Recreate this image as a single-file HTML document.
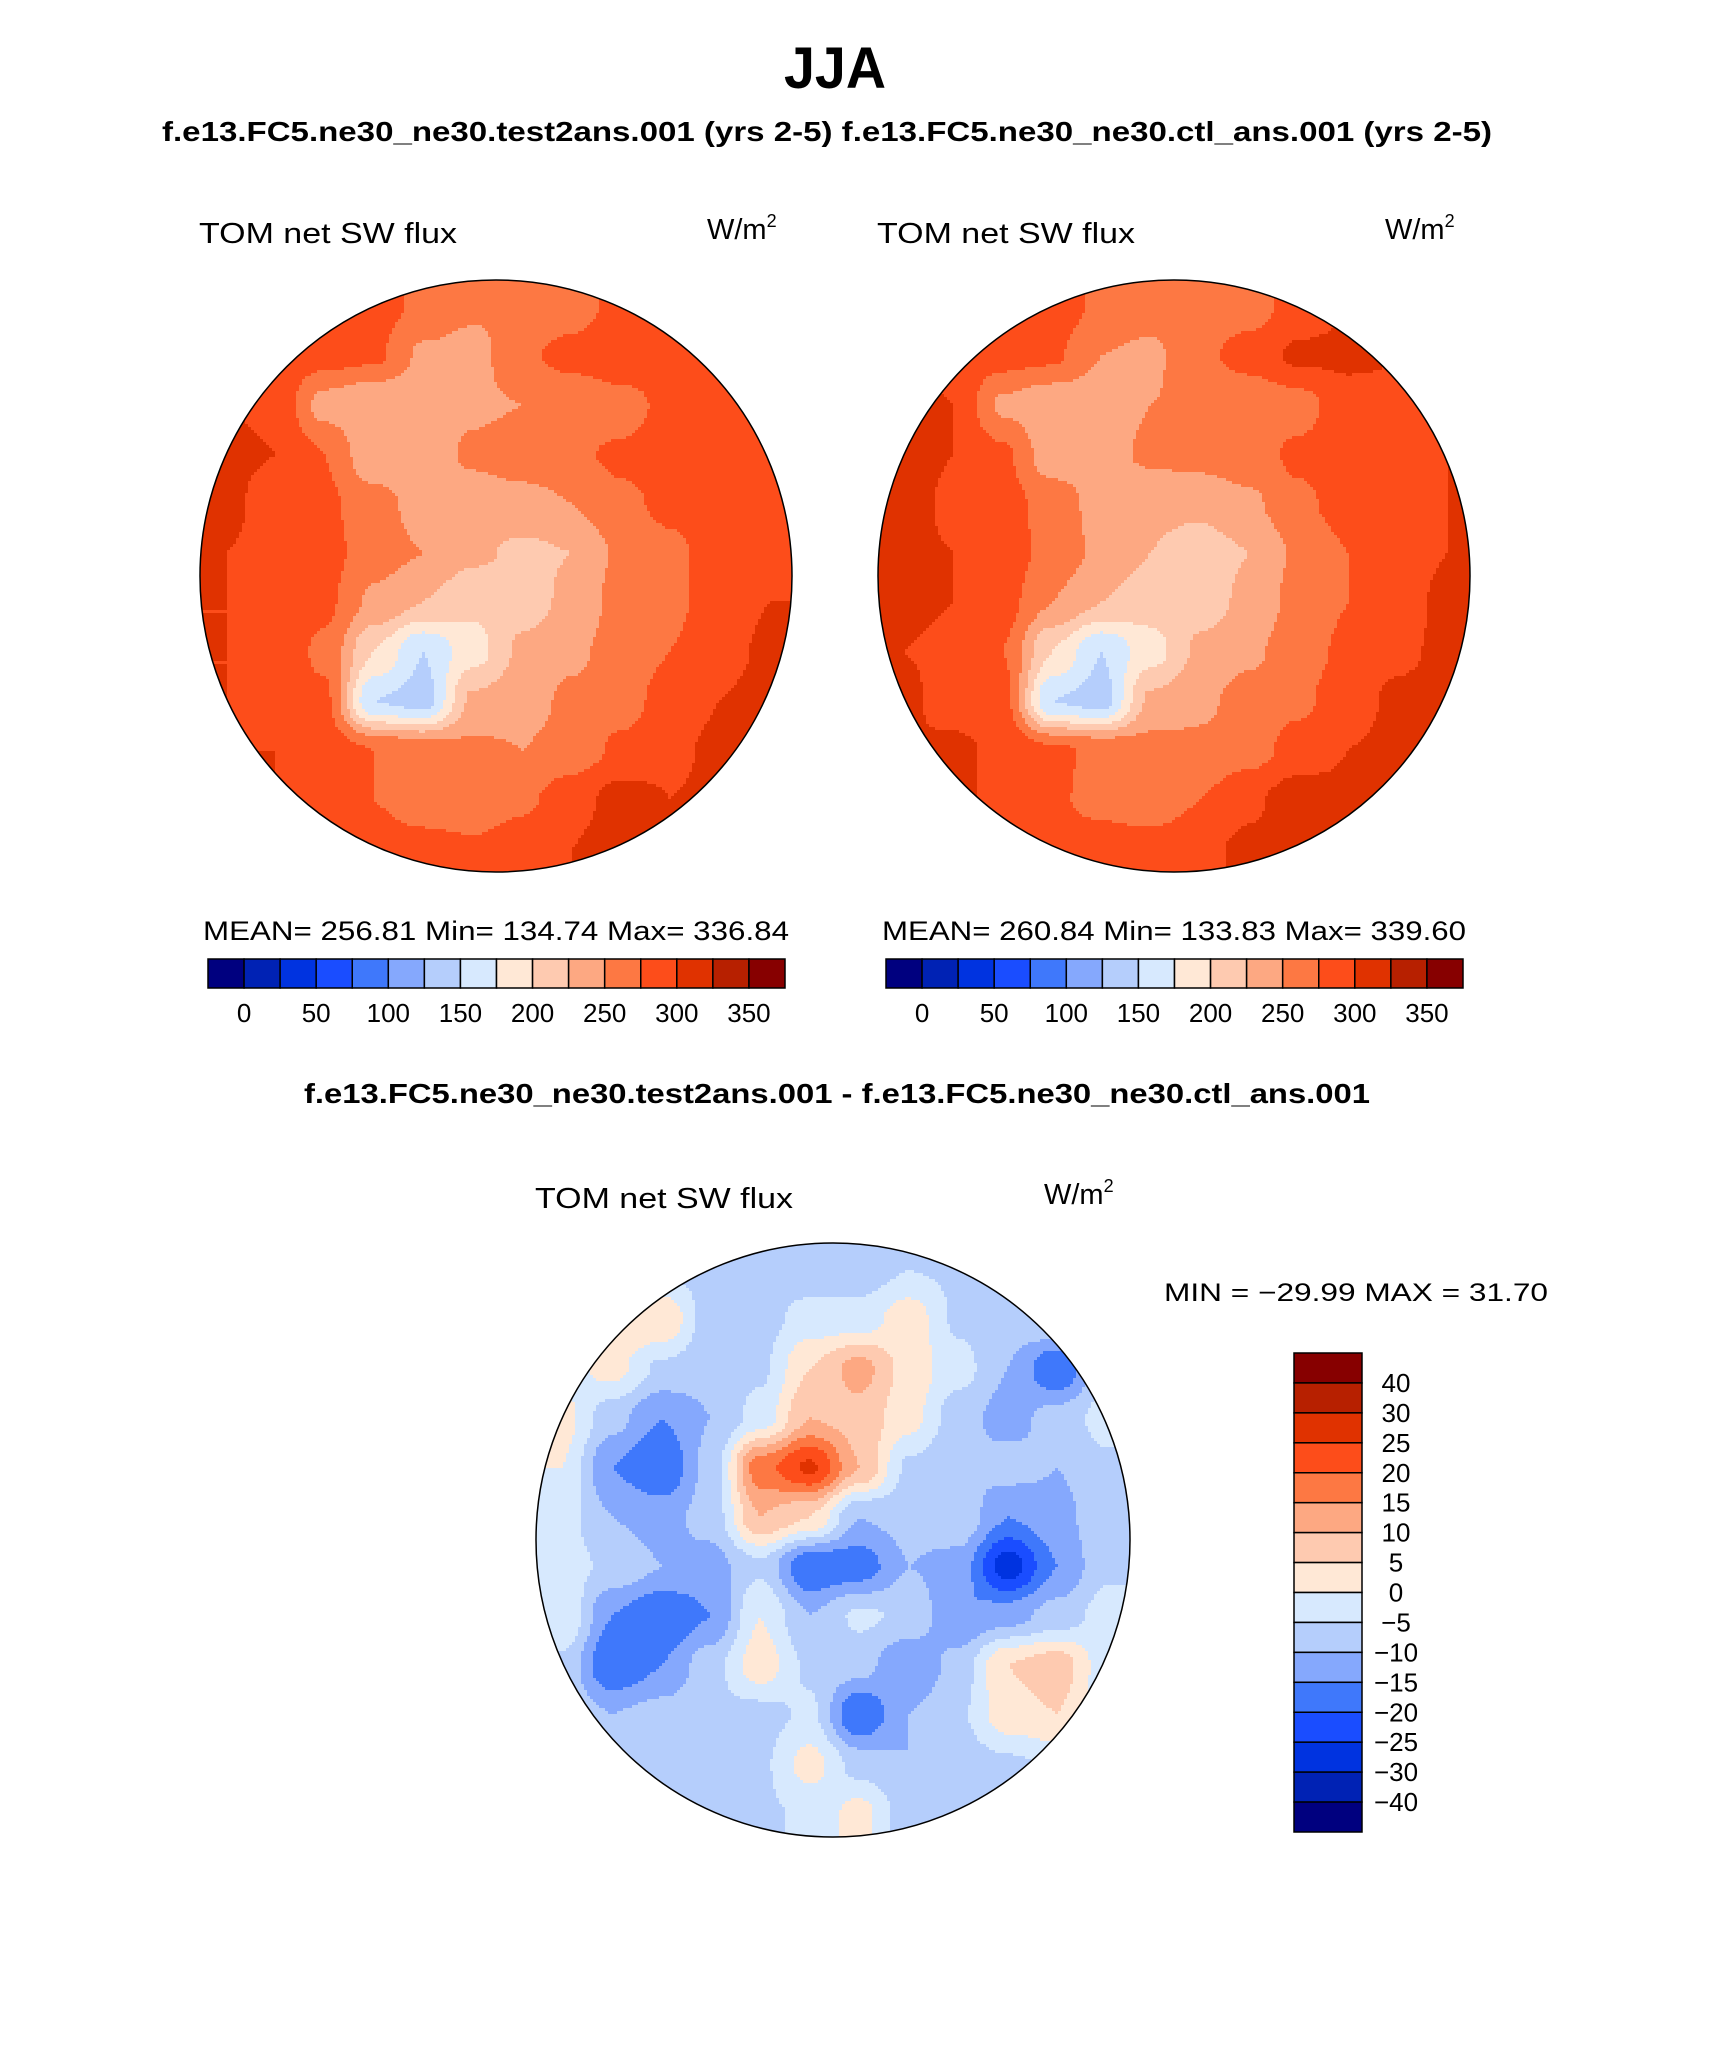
<!DOCTYPE html>
<html><head><meta charset="utf-8"><style>
html,body{margin:0;padding:0;background:#fff;}
svg{display:block;}
text{font-family:"Liberation Sans",sans-serif;fill:#000;}
</style></head><body>
<svg id="root" width="1710" height="2061" viewBox="0 0 1710 2061" xmlns="http://www.w3.org/2000/svg">
<rect x="0" y="0" width="1710" height="2061" fill="#fff"/>
<defs>
<clipPath id="c1"><circle cx="496" cy="576" r="296"/></clipPath>
<clipPath id="c2"><circle cx="1174" cy="576" r="296"/></clipPath>
<clipPath id="c3"><circle cx="833" cy="1540" r="297"/></clipPath>
</defs>
<text x="784" y="88" font-size="58" font-weight="bold" textLength="102" lengthAdjust="spacingAndGlyphs">JJA</text>
<text x="162" y="141" font-size="28" font-weight="bold" textLength="1330" lengthAdjust="spacingAndGlyphs">f.e13.FC5.ne30_ne30.test2ans.001 (yrs 2-5)  f.e13.FC5.ne30_ne30.ctl_ans.001 (yrs 2-5)</text>

<text x="199" y="243" font-size="29" textLength="258" lengthAdjust="spacingAndGlyphs">TOM net SW flux</text>
<text x="707" y="239" font-size="29">W/m<tspan font-size="18" dy="-12">2</tspan></text>
<text x="877" y="243" font-size="29" textLength="258" lengthAdjust="spacingAndGlyphs">TOM net SW flux</text>
<text x="1385" y="239" font-size="29">W/m<tspan font-size="18" dy="-12">2</tspan></text>

<g id="map1" clip-path="url(#c1)"></g>
<circle cx="496" cy="576" r="296" fill="none" stroke="#000" stroke-width="1.5"/>
<g id="map2" clip-path="url(#c2)"></g>
<circle cx="1174" cy="576" r="296" fill="none" stroke="#000" stroke-width="1.5"/>

<text x="203" y="940" font-size="27" textLength="586" lengthAdjust="spacingAndGlyphs">MEAN= 256.81   Min= 134.74   Max= 336.84</text>
<text x="882" y="940" font-size="27" textLength="584" lengthAdjust="spacingAndGlyphs">MEAN= 260.84   Min= 133.83   Max= 339.60</text>
<g id="cb1"></g>
<g id="cb2"></g>

<text x="304" y="1103" font-size="28" font-weight="bold" textLength="1066" lengthAdjust="spacingAndGlyphs">f.e13.FC5.ne30_ne30.test2ans.001 - f.e13.FC5.ne30_ne30.ctl_ans.001</text>
<text x="535" y="1208" font-size="29" textLength="258" lengthAdjust="spacingAndGlyphs">TOM net SW flux</text>
<text x="1044" y="1204" font-size="29">W/m<tspan font-size="18" dy="-12">2</tspan></text>
<text x="1164" y="1301" font-size="25" textLength="384" lengthAdjust="spacingAndGlyphs">MIN = −29.99 MAX =  31.70</text>

<g id="map3" clip-path="url(#c3)"></g>
<circle cx="833" cy="1540" r="297" fill="none" stroke="#000" stroke-width="1.5"/>
<g id="cb3"></g>
</svg>
<script>
const palette=["#00007f","#0022b4","#0033e0","#1a4dff","#3f78fb","#85a8fd","#b5cefc","#d7e9fe","#ffe8d6","#fecab0","#fda882","#fd7843","#fd4d1a","#e03200","#b72000","#870000"];
const levelsAbs=[0,25,50,75,100,125,150,175,200,225,250,275,300,325,350];
const levelsDiff=[-40,-30,-25,-20,-15,-10,-5,0,5,10,15,20,25,30,40];
const tickAbs=["0","50","100","150","200","250","300","350"];
const tickDiff=["40","30","25","20","15","10","5","0","−5","−10","−15","−20","−25","−30","−40"];

const testField=[
[290,290,290,285,270,255,250,260,285,295,300,300],
[295,290,285,280,245,240,270,285,300,300,295,300],
[300,295,240,225,230,245,250,250,260,285,290,295],
[305,300,275,230,235,255,265,270,280,290,295,295],
[305,290,280,260,240,235,240,250,270,280,290,295],
[300,295,285,260,250,230,220,225,255,270,285,295],
[300,300,280,245,225,205,215,230,260,270,285,300],
[300,290,270,200,150,190,230,245,260,275,290,305],
[300,285,280,150,140,230,240,255,265,285,300,310],
[300,300,290,275,265,255,250,260,280,295,305,310],
[300,300,290,275,260,255,270,290,310,300,305,300],
[300,300,295,290,285,280,290,300,315,300,300,300]];
const ctlField=[
[290,290,295,290,270,260,255,265,285,300,300,300],
[300,295,285,280,250,245,270,285,305,305,300,300],
[305,300,245,230,235,250,255,255,265,290,295,300],
[310,300,280,235,240,255,260,265,280,290,300,300],
[310,295,285,265,240,230,230,245,270,285,295,300],
[305,300,290,265,245,225,215,225,255,275,290,300],
[305,300,285,250,225,210,215,230,260,275,290,305],
[300,295,275,200,150,190,230,245,265,280,295,305],
[305,290,285,150,140,230,245,260,270,290,305,310],
[300,305,295,280,270,260,255,265,285,300,305,310],
[300,305,295,280,265,260,275,295,315,305,305,300],
[300,300,300,295,290,285,295,305,320,305,300,300]];
const diffField=[
[-7,-7,-7,-6,-8,-8,-8,-5,-6,-7,-6,-6],
[-3,5,5,-8,-7,-3,-3,3,-6,-8,-4,-3],
[-3,2,-6,-8,-6,5,12,3,-3,-10,-20,-6],
[2,-8,-15,-10,-3,10,8,2,-8,-12,-8,-3],
[0,-15,-20,-8,18,26,10,-6,-10,-8,-10,-6],
[-3,-10,-12,-8,10,5,-10,-8,-6,-15,-12,-6],
[-3,-6,-10,-12,-6,-20,-18,-10,-12,-28,-15,-6],
[0,-15,-20,-15,0,-10,-4,-6,-15,-12,-8,-3],
[-6,-20,-15,-7,3,-6,-8,-15,-8,5,8,-3],
[-6,-10,-8,-6,-7,-4,-20,-10,-6,3,5,-3],
[-7,-6,-8,-10,-6,2,-7,-10,-8,-6,-4,-4],
[-6,-7,-6,-8,-6,-4,2,-8,-7,-6,-6,-6]];

const NS="http://www.w3.org/2000/svg";
function mk(tag,attrs,parent){const e=document.createElementNS(NS,tag);for(const k in attrs)e.setAttribute(k,attrs[k]);parent.appendChild(e);return e;}
function levelIndex(v,levs){let i=0;while(i<levs.length&&v>=levs[i])i++;return i;}
function sample(grid,gx,gy){
  const n=grid.length,m=grid[0].length;
  gx=Math.max(0,Math.min(m-1,gx));gy=Math.max(0,Math.min(n-1,gy));
  const x0=Math.min(m-2,Math.floor(gx)),y0=Math.min(n-2,Math.floor(gy));
  let tx=gx-x0,ty=gy-y0;
  tx=tx*tx*(3-2*tx);ty=ty*ty*(3-2*ty);
  const a=grid[y0][x0],b=grid[y0][x0+1],c=grid[y0+1][x0],d=grid[y0+1][x0+1];
  return (a*(1-tx)+b*tx)*(1-ty)+(c*(1-tx)+d*tx)*ty;
}
function drawMap(id,cx,cy,r,grid,levs){
  const g=document.getElementById(id);
  const step=3,n=grid.length,m=grid[0].length;
  for(let y=cy-r;y<cy+r;y+=step){
    let runStart=cx-r,runCol=null;
    for(let x=cx-r;x<=cx+r;x+=step){
      const gx=(x-(cx-r))/(2*r)*m-0.5,gy=(y-(cy-r))/(2*r)*n-0.5;
      const col=palette[levelIndex(sample(grid,gx,gy),levs)];
      if(runCol===null){runCol=col;runStart=x;}
      else if(col!==runCol){
        const rc=mk('rect',{x:runStart,y:y,width:x-runStart+0.6,height:step+0.6,fill:runCol},g);
        
        
        runCol=col;runStart=x;
      }
    }
    const rc=mk('rect',{x:runStart,y:y,width:cx+r-runStart+step,height:step+0.6,fill:runCol},g);
    
    
  }
}
drawMap('map1',496,576,296,testField,levelsAbs);
drawMap('map2',1174,576,296,ctlField,levelsAbs);
drawMap('map3',833,1540,297,diffField,levelsDiff);

function hBar(id,x0,w){
  const g=document.getElementById(id);const bw=w/16;
  for(let i=0;i<16;i++){
    const b=mk('rect',{x:x0+i*bw,y:959,width:bw,height:29,fill:palette[i],stroke:"#000","stroke-width":1.5},g);
    
    
  }
  tickAbs.forEach((t,k)=>{
    const tx=mk('text',{x:x0+(2*k+1)*bw,y:1022,"font-size":26,"text-anchor":"middle"},g);
    tx.textContent=t;
    
    
  });
}
hBar('cb1',208,577);
hBar('cb2',886,577);
(function(){
  const g=document.getElementById('cb3');const y0=1353,h=479,bh=h/16;
  for(let i=0;i<16;i++){
    const b=mk('rect',{x:1294,y:y0+i*bh,width:68,height:bh,fill:palette[15-i],stroke:"#000","stroke-width":1.5},g);
    
    
  }
  tickDiff.forEach((t,k)=>{
    const tx=mk('text',{x:1396,y:y0+(k+1)*bh+9,"font-size":26,"text-anchor":"middle"},g);
    tx.textContent=t;
    
    
  });
})();
</script>
</body></html>
